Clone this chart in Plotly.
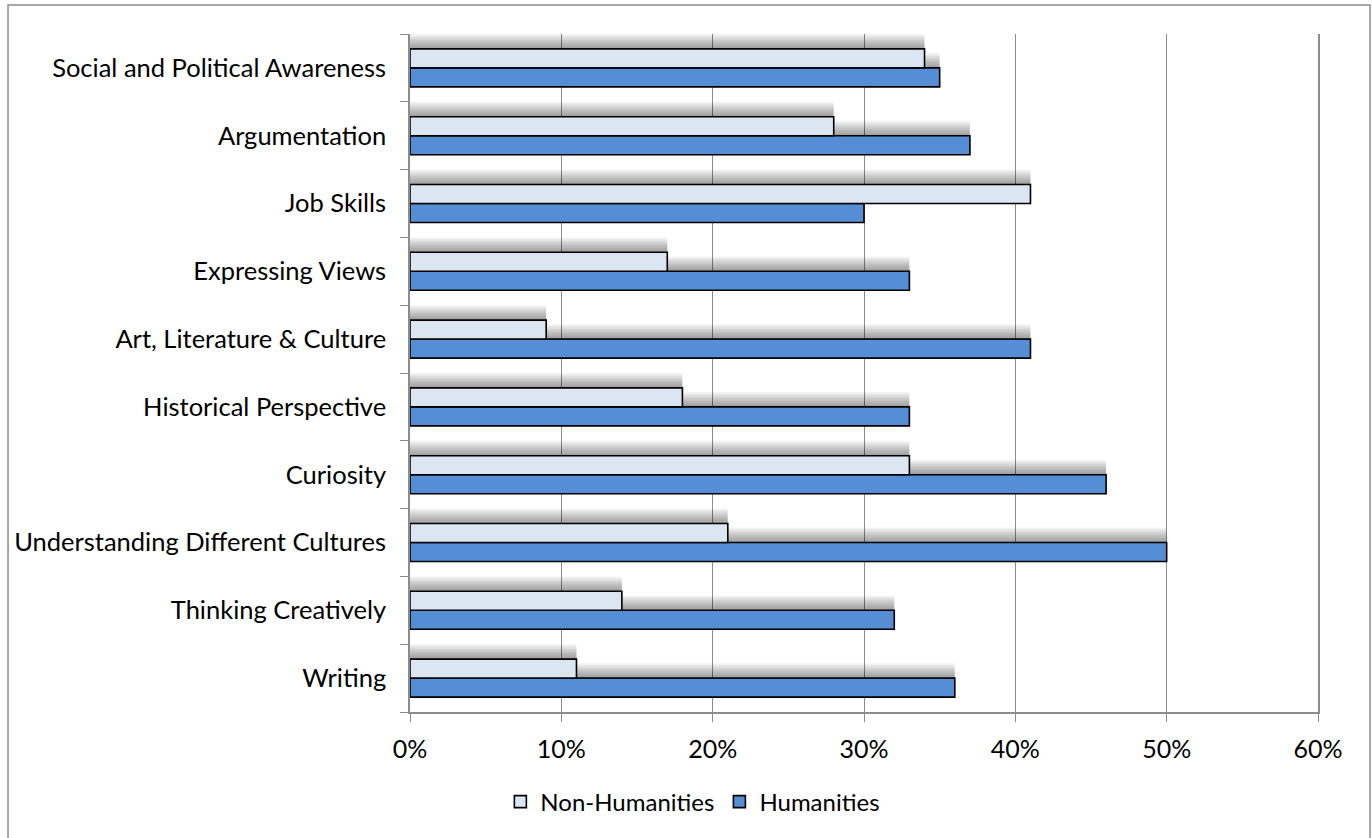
import plotly.graph_objects as go

categories = ["Writing", "Thinking Creatively", "Understanding Different Cultures", "Curiosity",
              "Historical Perspective", "Art, Literature & Culture", "Expressing Views",
              "Job Skills", "Argumentation", "Social and Political Awareness"]
non_humanities = [0.11, 0.14, 0.21, 0.33, 0.18, 0.09, 0.17, 0.41, 0.28, 0.34]
humanities = [0.36, 0.32, 0.50, 0.46, 0.33, 0.41, 0.33, 0.30, 0.37, 0.35]
x_ticks = [0, 0.1, 0.2, 0.3, 0.4, 0.5, 0.6]

FONT = "Lato"
BW = 0.28  # bar thickness in category units

fig = go.Figure()

def shadows(vals, base_offset):
    n = 10
    for k in range(1, n + 1):
        fig.add_trace(go.Bar(
            y=categories, x=vals, orientation="h",
            offset=base_offset, width=BW + 0.022 * k,
            marker=dict(color="rgba(0,0,0,0.042)", line=dict(width=0)),
            showlegend=False, hoverinfo="skip"))

shadows(humanities, -BW)
fig.add_trace(go.Bar(
    y=categories, x=humanities, orientation="h", name="Humanities",
    offset=-BW, width=BW,
    marker=dict(color="#558ED5", line=dict(color="black", width=1.6))))
shadows(non_humanities, 0)
fig.add_trace(go.Bar(
    y=categories, x=non_humanities, orientation="h", name="Non-Humanities",
    offset=0, width=BW,
    marker=dict(color="#DCE6F2", line=dict(color="black", width=1.6))))

fig.update_layout(
    width=1372, height=838,
    barmode="overlay",
    paper_bgcolor="white", plot_bgcolor="white",
    margin=dict(l=410, r=54, t=34, b=126, autoexpand=False),
    font=dict(family=FONT, size=25, color="black"),
    xaxis=dict(range=[0, 0.6], tickvals=x_ticks, tickformat=".0%",
               showgrid=True, gridcolor="#8C8C8C", gridwidth=1,
               showline=True, linecolor="#8C8C8C", linewidth=1.5,
               ticks="outside", ticklen=8, tickcolor="#8C8C8C",
               ticklabelstandoff=6, zeroline=False, automargin=False),
    yaxis=dict(type="category", categoryorder="array", categoryarray=categories,
               range=[-0.5, 9.5], tickson="boundaries", ticks="outside",
               ticklen=8, tickcolor="#8C8C8C", showgrid=False,
               showline=True, linecolor="#8C8C8C", linewidth=1.5, mirror=True,
               ticklabelstandoff=17, tickfont=dict(size=25.5), automargin=False),
    legend=dict(orientation="h", traceorder="reversed",
                xref="container", yref="container", x=0.505, xanchor="center",
                y=1 - 802 / 838, yanchor="middle", font=dict(size=24),
                itemwidth=30),
    shapes=[dict(type="rect", xref="paper", yref="paper",
                 x0=-0.4427, x1=1.0573, y0=-0.2, y1=1.0428,
                 line=dict(color="#8C8C8C", width=1.5), fillcolor="rgba(0,0,0,0)",
                 layer="below")],
)

fig.write_html("out.html", config={"displayModeBar": False},
               post_script="document.body.style.margin='0';")
